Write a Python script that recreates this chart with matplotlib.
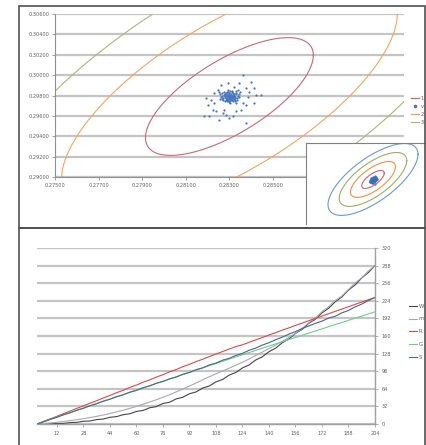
import numpy as np
import matplotlib
matplotlib.use("Agg")
import matplotlib.pyplot as plt
from matplotlib.lines import Line2D
from matplotlib.patches import Rectangle

# ---- top chart data ----
center_x = 0.28300
center_y = 0.29790
sigma_x = 0.00385
sigma_y = 0.00578
rho = 0.70
main_levels = [1, 2, 3]
inset_levels = [1, 2, 3, 4]

pts_x = [0.28361, 0.28446, 0.28415, 0.28377, 0.28377, 0.28185, 0.28208, 0.28254, 0.28300, 0.28315,
         0.28200, 0.28193, 0.28216, 0.28400, 0.28346, 0.28262, 0.28392, 0.28415, 0.28423, 0.28223,
         0.28239, 0.28269, 0.28277, 0.28285, 0.28331, 0.28354, 0.28361, 0.28231, 0.28246, 0.28292,
         0.28323, 0.28338, 0.28377, 0.28384, 0.28231,
         0.28300, 0.28310, 0.28290, 0.28320, 0.28285, 0.28315, 0.28295, 0.28305, 0.28280, 0.28325,
         0.28312, 0.28288, 0.28298, 0.28330, 0.28270, 0.28318, 0.28278, 0.28308, 0.28292, 0.28302,
         0.28322, 0.28284, 0.28314, 0.28296, 0.28335, 0.28265, 0.28306, 0.28276, 0.28326, 0.28288,
         0.28318, 0.28300, 0.28294, 0.28310, 0.28282, 0.28328, 0.28272, 0.28304, 0.28316, 0.28290,
         0.28340, 0.28260, 0.28298, 0.28308, 0.28286, 0.28320, 0.28302, 0.28280, 0.28332, 0.28274,
         0.28312, 0.28295, 0.28324, 0.28268, 0.28345, 0.28256, 0.28300, 0.28306, 0.28288, 0.28314,
         0.28292, 0.28320, 0.28284, 0.28336, 0.28264, 0.28300, 0.28310, 0.28296, 0.28304, 0.28318,
         0.28282, 0.28326, 0.28290, 0.28342, 0.28258, 0.28348, 0.28252, 0.28305, 0.28295, 0.28328]
pts_y = [0.30003, 0.29807, 0.29724, 0.29709, 0.29528, 0.29594, 0.29594, 0.29562, 0.29577, 0.29594,
         0.29709, 0.29773, 0.29758, 0.29937, 0.29921, 0.29905, 0.29839, 0.29871, 0.29807, 0.29660,
         0.29643, 0.29626, 0.29660, 0.29611, 0.29643, 0.29660, 0.29724, 0.29822, 0.29856, 0.29921,
         0.29888, 0.29856, 0.29871, 0.29790, 0.29724,
         0.29790, 0.29800, 0.29780, 0.29770, 0.29810, 0.29820, 0.29760, 0.29805, 0.29795, 0.29790,
         0.29775, 0.29765, 0.29825, 0.29810, 0.29780, 0.29750, 0.29815, 0.29785, 0.29798, 0.29770,
         0.29800, 0.29772, 0.29835, 0.29745, 0.29775, 0.29800, 0.29760, 0.29830, 0.29758, 0.29802,
         0.29790, 0.29812, 0.29788, 0.29768, 0.29788, 0.29825, 0.29760, 0.29840, 0.29808, 0.29750,
         0.29795, 0.29785, 0.29778, 0.29795, 0.29822, 0.29782, 0.29752, 0.29745, 0.29840, 0.29808,
         0.29848, 0.29830, 0.29745, 0.29770, 0.29810, 0.29810, 0.29735, 0.29818, 0.29792, 0.29760,
         0.29808, 0.29812, 0.29755, 0.29760, 0.29822, 0.29800, 0.29782, 0.29772, 0.29790, 0.29795,
         0.29805, 0.29778, 0.29838, 0.29782, 0.29765, 0.29830, 0.29835, 0.29725, 0.29855, 0.29728]

top_labels = ["1", "v", "2", "3"]

# ---- bottom chart data ----
steps = list(range(0, 205, 4))
series_w = [0, 0.5, 0.3, 1.2, 1.0, 2.6, 3.0, 4.9, 5.5, 8.1, 9.0, 12.2, 13.4, 16.9, 18.6, 22.8, 24.7,
            29.5, 31.6, 37.2, 39.6, 45.6, 48.6, 55.0, 58.3, 65.4, 69.1, 76.6, 80.9, 88.9, 93.6, 102.0,
            107.3, 116.4, 122.1, 131.5, 137.8, 147.7, 154.5, 164.8, 172.0, 182.9, 190.6, 202.0, 210.4,
            222.3, 231.1, 243.5, 252.8, 265.6, 275.5, 288.0]
series_m = [0, 0.9, 1.9, 3.2, 4.6, 6.2, 7.8, 9.6, 11.7, 13.9, 16.4, 19.1, 22.0, 25.1, 28.5, 32.0, 35.9,
            39.9, 44.1, 48.6, 53.3, 58.3, 63.5, 68.9, 74.6, 80.5, 86.0, 91.2, 96.3, 101.5, 107.0, 112.2,
            118.2, 124.5, 130.9, 137.1, 143.6, 150.3, 157.3, 165.0, 173.4, 184.1, 192.5, 204.3, 213.2,
            224.4, 232.9, 244.6, 256.6, 265.8, 278.3, 288.0]
series_r = [0, 4.8, 9.5, 14.0, 18.9, 23.5, 28.4, 33.0, 37.9, 42.3, 47.4, 51.8, 56.9, 61.2, 66.5, 70.8,
            75.9, 80.2, 85.3, 89.6, 94.8, 99.0, 104.1, 108.5, 113.4, 117.8, 122.6, 127.1, 131.7, 136.3,
            140.8, 144.0, 148.5, 153.0, 157.2, 161.8, 166.0, 170.6, 174.8, 179.3, 183.4, 187.8, 192.0,
            196.3, 200.5, 204.8, 209.0, 213.3, 217.5, 221.6, 226.0, 230.0]
series_g = [0, 4.2, 8.3, 12.5, 16.6, 20.7, 24.8, 29.0, 33.1, 37.2, 41.3, 45.4, 49.4, 53.5, 57.6, 61.7,
            65.7, 69.8, 73.9, 77.9, 81.9, 86.0, 90.0, 94.0, 98.0, 102.0, 106.0, 110.0, 114.0, 118.0,
            121.9, 125.9, 129.9, 133.8, 137.8, 141.7, 145.7, 149.6, 153.5, 157.4, 161.3, 165.2, 169.1,
            173.0, 176.9, 180.8, 184.6, 188.5, 192.4, 196.2, 200.1, 204.0]
series_s = [0, 4.0, 8.4, 12.2, 16.8, 20.4, 25.0, 28.6, 33.3, 36.8, 41.5, 45.0, 49.6, 53.0, 57.8, 61.0,
            65.9, 69.2, 74.0, 77.2, 82.1, 85.3, 90.4, 93.6, 98.8, 102.0, 107.4, 110.6, 116.0, 119.4,
            124.6, 128.4, 134.0, 138.0, 143.5, 147.8, 153.2, 157.8, 163.4, 168.0, 173.6, 178.2, 183.0,
            187.0, 192.5, 196.0, 202.0, 206.5, 213.0, 218.0, 224.5, 230.0]
bottom_labels = ["W", "m", "R", "G", "S"]
bottom_colors = ["#454545", "#a8a8b4", "#e04848", "#6ccf8c", "#4a6688"]
xtick_vals = [12, 28, 44, 60, 76, 92, 108, 124, 140, 156, 172, 188, 204]

W, H = 426, 445
TXT = "#606060"
GRID = "#c4c4c4"


def fbox(x0, y0, x1, y1):
    # pixel box -> figure fraction rect
    return [x0 / W, 1 - y1 / H, (x1 - x0) / W, (y1 - y0) / H]


def ellipse(level):
    t = np.linspace(0, 2 * np.pi, 400)
    ex = center_x + level * sigma_x * np.cos(t)
    ey = center_y + level * sigma_y * (rho * np.cos(t) + np.sqrt(1 - rho ** 2) * np.sin(t))
    return ex, ey


fig = plt.figure(figsize=(W / 100, H / 100), dpi=100)

# panel frames
for y0, y1 in [(6, 228), (228, 452)]:
    fig.patches.append(Rectangle((19 / W, 1 - y1 / H), 406 / W, (y1 - y0) / H,
                                 transform=fig.transFigure, fill=False,
                                 edgecolor="#505050", lw=1.2))

# ---------- top chart ----------
ax = fig.add_axes(fbox(55, 14, 403.8, 177))
main_colors = ["#cc6677", "#f4a460", "#a8b878"]
for lvl, c in zip(main_levels, main_colors):
    ex, ey = ellipse(lvl)
    ax.plot(ex, ey, color=c, lw=0.8)
ax.scatter(pts_x, pts_y, s=2.6, color="#4676c0", lw=0)
ax.set_xlim(0.275, 0.291)
ax.set_ylim(0.290, 0.306)
ax.set_xticks(np.arange(0.275, 0.2911, 0.002))
ax.set_yticks(np.arange(0.290, 0.3061, 0.002))
ax.xaxis.set_major_formatter(matplotlib.ticker.FormatStrFormatter("%.5f"))
ax.yaxis.set_major_formatter(matplotlib.ticker.FormatStrFormatter("%.5f"))
ax.grid(axis="y", color=GRID, lw=1.6)
ax.set_axisbelow(True)
for s in ["top", "right"]:
    ax.spines[s].set_visible(False)
for s in ["left", "bottom"]:
    ax.spines[s].set_color("#909090")
    ax.spines[s].set_linewidth(0.8)
ax.tick_params(labelsize=3.6, colors="#909090", labelcolor=TXT, length=2, width=0.6, pad=2)

# inset
ins = fig.add_axes(fbox(306, 143, 440, 224))
for lvl, c in zip(inset_levels, ["#d06070", "#f09040", "#98b060", "#6a9ad0"]):
    ex, ey = ellipse(lvl)
    ins.plot(ex, ey, color=c, lw=0.8)
ins.scatter(pts_x, pts_y, s=2.6, color="#3a6ec0", lw=0)
ins.set_xlim(0.26007, 0.30593)
ins.set_ylim(0.26925, 0.32134)
ins.set_xticks([])
ins.set_yticks([])
for s in ["right", "bottom"]:
    ins.spines[s].set_visible(False)
for s in ["left", "top"]:
    ins.spines[s].set_color("#808080")
    ins.spines[s].set_linewidth(0.8)

top_handles = [Line2D([], [], color=main_colors[0], lw=0.9),
               Line2D([], [], color="#4676c0", marker="o", ms=1.6, ls="none"),
               Line2D([], [], color=main_colors[1], lw=0.9),
               Line2D([], [], color=main_colors[2], lw=0.9)]
fig.legend(top_handles, top_labels, loc="upper left", bbox_to_anchor=(411 / W, 1 - 95.5 / H),
           frameon=False, fontsize=3.6, handlelength=1.6, handletextpad=0.3,
           labelspacing=0.6, borderpad=0, borderaxespad=0, labelcolor=TXT)

# ---------- bottom chart ----------
bx = fig.add_axes(fbox(37, 248, 375, 424))
for vals, c, lab in zip([series_w, series_m, series_r, series_g, series_s], bottom_colors, bottom_labels):
    bx.plot(steps, vals, color=c, lw=0.8, label=lab)
bx.set_xlim(0, 204)
bx.set_ylim(0, 320)
bx.set_yticks(range(0, 321, 32))
bx.set_xticks(xtick_vals)
bx.yaxis.tick_right()
bx.grid(axis="y", color=GRID, lw=1.6)
bx.set_axisbelow(True)
for s in ["top", "left"]:
    bx.spines[s].set_visible(False)
for s in ["right", "bottom"]:
    bx.spines[s].set_color("#a0a0a0")
    bx.spines[s].set_linewidth(1.0)
bx.tick_params(labelsize=3.6, colors="#a0a0a0", labelcolor=TXT, length=2, width=0.6, pad=3)

fig.legend(*bx.get_legend_handles_labels(), loc="upper left", bbox_to_anchor=(409 / W, 1 - 303.5 / H),
           frameon=False, fontsize=3.8, handlelength=1.5, handletextpad=0.3,
           labelspacing=1.5, borderpad=0, borderaxespad=0, labelcolor=TXT)

fig.savefig("out.png", dpi=100)
